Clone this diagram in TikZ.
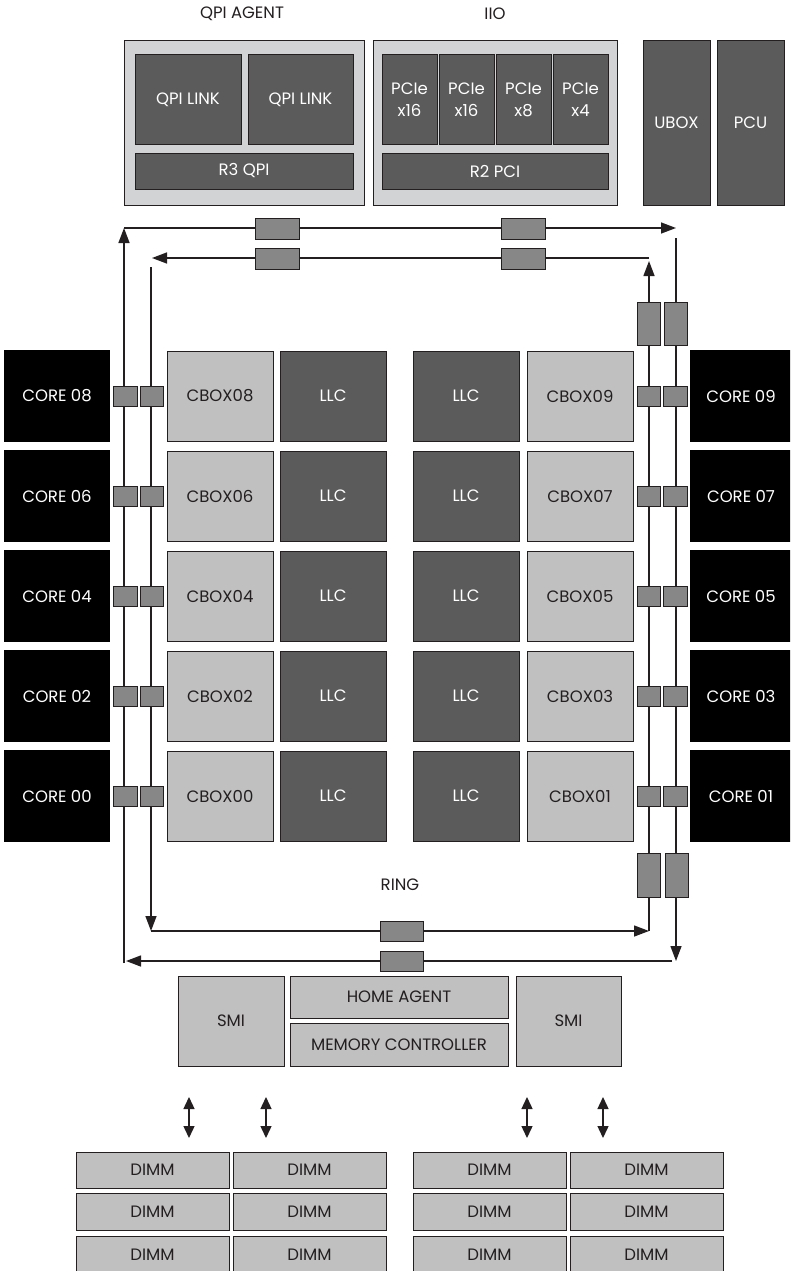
\documentclass[tikz,border=0pt]{standalone}
\usepackage{fontspec}
\setmainfont{Poppins}
\usetikzlibrary{arrows.meta}
\definecolor{panel}{HTML}{D1D3D4}
\definecolor{darkb}{HTML}{5B5B5B}
\definecolor{lightb}{HTML}{C0C0C0}
\definecolor{stopc}{HTML}{878787}
\definecolor{edge}{HTML}{231F20}
\tikzset{
 blk/.style={inner sep=0pt, outer sep=0pt, align=center, font=\fontsize{16.5}{22}\selectfont},
 panelbox/.style={blk, draw=edge, line width=1pt, fill=panel},
 darkbox/.style={blk, draw=edge, line width=1pt, fill=darkb, text=white},
 lightbox/.style={blk, draw=edge, line width=1pt, fill=lightb, text=edge},
 corebox/.style={blk, fill=black, text=white},
 stopbox/.style={inner sep=0pt, outer sep=0pt, draw=edge, line width=1pt, fill=stopc},
 ringline/.style={draw=edge, line width=1.4pt, -{Triangle[length=15pt,width=11pt]}},
 memarrow/.style={draw=edge, line width=1.4pt, {Triangle[length=12pt,width=11pt]}-{Triangle[length=12pt,width=11pt]}},
 titletext/.style={blk, text=edge},
}
\begin{document}
\begin{tikzpicture}[x=1pt,y=-1pt]
\useasboundingbox (0,0) rectangle (790,1271);
\clip (0,0) rectangle (790,1271);
\fill[white] (0,0) rectangle (790,1271);

% ---- top titles
\node[titletext] (tqpi) at (242,14) {QPI AGENT};
\node[titletext] (tiio) at (495,14) {IIO};

% ---- QPI agent
\node[panelbox, minimum width=240, minimum height=164] (qpi) at (244,123) {};
\node[darkbox, minimum width=106, minimum height=89] (ql1) at (188,99.5) {QPI LINK};
\node[darkbox, minimum width=105, minimum height=89] (ql2) at (300.5,99.5) {QPI LINK};
\node[darkbox, minimum width=218, minimum height=36] (r3) at (244,171) {R3 QPI};

% ---- IIO
\node[panelbox, minimum width=244, minimum height=164] (iio) at (495,123) {};
\node[darkbox, minimum width=55, minimum height=89] (p1) at (409.5,99.5) {PCIe\\x16};
\node[darkbox, minimum width=55, minimum height=89] (p2) at (466.5,99.5) {PCIe\\x16};
\node[darkbox, minimum width=55, minimum height=89] (p3) at (523.5,99.5) {PCIe\\x8};
\node[darkbox, minimum width=55, minimum height=89] (p4) at (580.5,99.5) {PCIe\\x4};
\node[darkbox, minimum width=226, minimum height=36] (r2) at (495,171) {R2 PCI};

% ---- UBOX / PCU
\node[darkbox, minimum width=67, minimum height=164] (ubox) at (676.5,123) {UBOX};
\node[darkbox, minimum width=67, minimum height=164] (pcu) at (750.5,123) {PCU};

% ---- ring coordinates
\coordinate (oTL) at (124,228);
\coordinate (oTR) at (676,228);
\coordinate (oRtop) at (676,238);
\coordinate (oRbot) at (676,961);
\coordinate (oBR) at (672,961);
\coordinate (oBL) at (126,961);
\coordinate (oLbot) at (124,963);
\coordinate (iTR) at (649,258);
\coordinate (iTL) at (152,258);
\coordinate (iLtop) at (151,267);
\coordinate (iBL) at (151,931);
\coordinate (iBR) at (649,931);
\coordinate (iRtop) at (649,261);

\draw[ringline] (oTL) -- (oTR);
\draw[ringline] (oRtop) -- (oRbot);
\draw[ringline] (oBR) -- (oBL);
\draw[ringline] (oLbot) -- (oTL);
\draw[ringline] (iTR) -- (iTL);
\draw[ringline] (iLtop) -- (iBL);
\draw[ringline] (iBL) -- (iBR);
\draw[ringline] (iBR) -- (iRtop);

% ---- ring stops
\node[stopbox, minimum width=44, minimum height=21] (st1) at (277,228.5) {};
\node[stopbox, minimum width=44, minimum height=21] (st2) at (523,228.5) {};
\node[stopbox, minimum width=44, minimum height=21] (st3) at (277,258.5) {};
\node[stopbox, minimum width=44, minimum height=21] (st4) at (523,258.5) {};
\node[stopbox, minimum width=23, minimum height=43] (sr1) at (648.5,323.5) {};
\node[stopbox, minimum width=23, minimum height=43] (sr2) at (675.5,323.5) {};
\node[stopbox, minimum width=23, minimum height=44] (sr3) at (648.5,875) {};
\node[stopbox, minimum width=23, minimum height=44] (sr4) at (676.5,875) {};
\node[stopbox, minimum width=43, minimum height=20] (sb1) at (401.5,931) {};
\node[stopbox, minimum width=43, minimum height=20] (sb2) at (401.5,961) {};

% ---- rows
\foreach \k/\l/\r in {0/08/09,1/06/07,2/04/05,3/02/03,4/00/01}{
  \pgfmathsetmacro{\yy}{396+100*\k}
  \node[corebox, minimum width=106, minimum height=92] (cl\k) at (57,\yy) {CORE \l};
  \node[stopbox, minimum width=24, minimum height=20] (sl\k a) at (125,\yy) {};
  \node[stopbox, minimum width=23, minimum height=20] (sl\k b) at (151.5,\yy) {};
  \node[lightbox, minimum width=106, minimum height=90] (cbl\k) at (220,\yy) {CBOX\l};
  \node[darkbox, minimum width=106, minimum height=90] (llcl\k) at (333,\yy) {LLC};
  \node[darkbox, minimum width=106, minimum height=90] (llcr\k) at (466,\yy) {LLC};
  \node[lightbox, minimum width=106, minimum height=90] (cbr\k) at (580,\yy) {CBOX\r};
  \node[stopbox, minimum width=23, minimum height=20] (sr\k a) at (648.5,\yy) {};
  \node[stopbox, minimum width=24, minimum height=20] (sr\k b) at (675,\yy) {};
  \node[corebox, minimum width=102, minimum height=92] (cr\k) at (741,\yy) {CORE \r};
}

\node[titletext] (ring) at (400,885) {RING};

% ---- memory side
\node[lightbox, minimum width=106, minimum height=90] (smil) at (231,1021) {SMI};
\node[lightbox, minimum width=218, minimum height=42] (home) at (399,997) {HOME AGENT};
\node[lightbox, minimum width=218, minimum height=43] (memc) at (399,1044.5) {MEMORY CONTROLLER};
\node[lightbox, minimum width=105, minimum height=90] (smir) at (568.5,1021) {SMI};

\foreach \x [count=\i] in {189,266,527,603}{
  \coordinate (ma\i) at (\x,1097);
  \coordinate (mb\i) at (\x,1138);
  \draw[memarrow] (ma\i) -- (mb\i);
}

% ---- DIMMs
\foreach \cx [count=\c] in {152.5,309.5,489.5,646.5}{
  \node[lightbox, minimum width=153, minimum height=36] (d\c a) at (\cx,1170) {DIMM};
  \node[lightbox, minimum width=153, minimum height=37] (d\c b) at (\cx,1211.5) {DIMM};
  \node[lightbox, minimum width=153, minimum height=38] (d\c c) at (\cx,1255) {DIMM};
}
\end{tikzpicture}
\end{document}
